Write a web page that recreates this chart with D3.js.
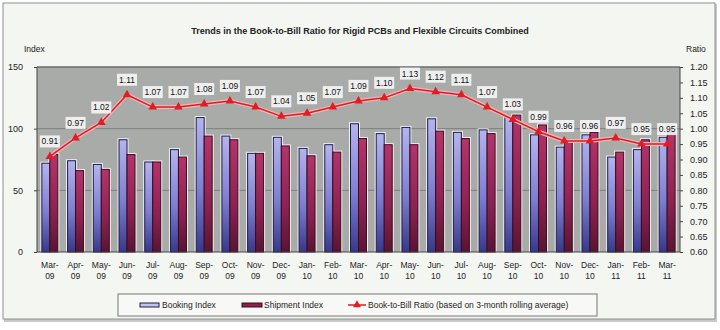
<!DOCTYPE html>
<html>
<head>
<meta charset="utf-8">
<script src="https://cdn.jsdelivr.net/npm/d3@7"></script>
<style>
  body { margin: 0; background: #ffffff; }
  svg text { font-family: "Liberation Sans", Arial, sans-serif; }
</style>
</head>
<body>
<svg width="720" height="330"></svg>
<script>
const months = ["Mar-09", "Apr-09", "May-09", "Jun-09", "Jul-09", "Aug-09", "Sep-09", "Oct-09", "Nov-09",
  "Dec-09", "Jan-10", "Feb-10", "Mar-10", "Apr-10", "May-10", "Jun-10", "Jul-10", "Aug-10", "Sep-10",
  "Oct-10", "Nov-10", "Dec-10", "Jan-11", "Feb-11", "Mar-11"];
const bookings = [72, 74, 71, 91, 73, 83, 109, 94, 80, 93, 84, 87, 104, 96, 101, 108, 97, 99, 109, 95, 85, 95, 77, 83, 93];
const shipments = [79, 66, 67, 79, 73, 77, 94, 91, 80, 86, 78, 81, 92, 87, 87, 98, 92, 96, 111, 103, 89, 97, 81, 91, 97];
const ratios = [0.91, 0.97, 1.02, 1.11, 1.07, 1.07, 1.08, 1.09, 1.07, 1.04, 1.05, 1.07, 1.09, 1.10, 1.13, 1.12,
  1.11, 1.07, 1.03, 0.99, 0.96, 0.96, 0.97, 0.95, 0.95];
const indexTicks = [0, 50, 100, 150];
const ratioTicks = [0.60, 0.65, 0.70, 0.75, 0.80, 0.85, 0.90, 0.95, 1.00, 1.05, 1.10, 1.15, 1.20];

const svg = d3.select("svg");
const plot = { left: 37, right: 680, top: 67, bottom: 252 };

// frame
svg.append("rect").attr("x", 0).attr("y", 0).attr("width", 720).attr("height", 330).attr("fill", "#ffffff");
svg.append("rect").attr("x", 4).attr("y", 4).attr("width", 713).attr("height", 318)
  .attr("fill", "#c8cac8");
svg.append("rect").attr("x", 3).attr("y", 3).attr("width", 712).attr("height", 316)
  .attr("fill", "#f4f6f2").attr("stroke", "#8e908e").attr("stroke-width", 1);

const defs = svg.append("defs");
const gBook = defs.append("linearGradient").attr("id", "gBook").attr("x1", 0).attr("y1", 0).attr("x2", 0).attr("y2", 1);
gBook.append("stop").attr("offset", "0%").attr("stop-color", "#b4b4ee");
gBook.append("stop").attr("offset", "55%").attr("stop-color", "#7e7ed0");
gBook.append("stop").attr("offset", "100%").attr("stop-color", "#38388a");
const gShip = defs.append("linearGradient").attr("id", "gShip").attr("x1", 0).attr("y1", 0).attr("x2", 0).attr("y2", 1);
gShip.append("stop").attr("offset", "0%").attr("stop-color", "#b4346a");
gShip.append("stop").attr("offset", "60%").attr("stop-color", "#8a2250");
gShip.append("stop").attr("offset", "100%").attr("stop-color", "#581432");

const x = d3.scaleBand().domain(months).range([plot.left, plot.right]);
const yIdx = d3.scaleLinear().domain([0, 150]).range([plot.bottom, plot.top]);
const yRat = d3.scaleLinear().domain([0.6, 1.2]).range([plot.bottom, plot.top]);

// plot background + grid
svg.append("rect").attr("x", plot.left).attr("y", plot.top)
  .attr("width", plot.right - plot.left).attr("height", plot.bottom - plot.top)
  .attr("fill", "#a9aba9");
svg.append("g").selectAll("line").data([50, 100]).join("line")
  .attr("x1", plot.left).attr("x2", plot.right)
  .attr("y1", d => yIdx(d)).attr("y2", d => yIdx(d))
  .attr("stroke", "#7c7e7c").attr("stroke-width", 1);
svg.append("line").attr("x1", plot.left).attr("x2", plot.right)
  .attr("y1", plot.top).attr("y2", plot.top).attr("stroke", "#6a6c6a").attr("stroke-width", 1.5);

// bars, each with a light halo behind it
const bw = 8;
const series = [
  { vals: bookings, off: -bw, fill: "url(#gBook)", edge: "#1c1c48" },
  { vals: shipments, off: 0, fill: "url(#gShip)", edge: "#3a0a1e" }
];
series.forEach(s => {
  svg.append("g").selectAll("rect").data(months).join("rect")
    .attr("x", d => x(d) + x.bandwidth() / 2 + s.off - 1.5)
    .attr("y", (d, i) => yIdx(s.vals[i]) - 1.5)
    .attr("width", bw + 3)
    .attr("height", (d, i) => plot.bottom - yIdx(s.vals[i]) + 1.5)
    .attr("fill", "#f2f2f2");
});
series.forEach(s => {
  svg.append("g").selectAll("rect").data(months).join("rect")
    .attr("x", d => x(d) + x.bandwidth() / 2 + s.off)
    .attr("y", (d, i) => yIdx(s.vals[i]))
    .attr("width", bw)
    .attr("height", (d, i) => plot.bottom - yIdx(s.vals[i]))
    .attr("fill", s.fill).attr("stroke", s.edge).attr("stroke-width", 1);
});

// axes
svg.append("line").attr("x1", plot.left).attr("x2", plot.left).attr("y1", plot.top).attr("y2", plot.bottom)
  .attr("stroke", "#444").attr("stroke-width", 1);
svg.append("line").attr("x1", plot.right).attr("x2", plot.right).attr("y1", plot.top).attr("y2", plot.bottom)
  .attr("stroke", "#444").attr("stroke-width", 1);
svg.append("line").attr("x1", plot.left).attr("x2", plot.right).attr("y1", plot.bottom).attr("y2", plot.bottom)
  .attr("stroke", "#444").attr("stroke-width", 1);

const leftAxis = svg.append("g").attr("transform", `translate(${plot.left},0)`)
  .call(d3.axisLeft(yIdx).tickValues(indexTicks).tickSize(3).tickPadding(11));
const rightAxis = svg.append("g").attr("transform", `translate(${plot.right},0)`)
  .call(d3.axisRight(yRat).tickValues(ratioTicks).tickSize(3).tickPadding(7).tickFormat(d3.format(".2f")));
[leftAxis, rightAxis].forEach(a => {
  a.select(".domain").remove();
  a.selectAll("line").attr("stroke", "#444");
  a.selectAll("text").attr("font-size", 9).attr("fill", "#222")
    .attr("font-family", "'Liberation Sans', Arial, sans-serif");
});

const xl = svg.append("g").selectAll("text").data(months).join("text")
  .attr("x", d => x(d) + x.bandwidth() / 2)
  .attr("y", 268)
  .attr("text-anchor", "middle").attr("font-size", 8.5).attr("fill", "#222");
xl.append("tspan").attr("x", d => x(d) + x.bandwidth() / 2).text(d => d.split("-")[0] + "-");
xl.append("tspan").attr("x", d => x(d) + x.bandwidth() / 2).attr("dy", 10.5).text(d => d.split("-")[1]);

// ratio line
const pts = months.map((m, i) => [x(m) + x.bandwidth() / 2, yRat(ratios[i])]);
svg.append("path").attr("d", d3.line()(pts)).attr("fill", "none")
  .attr("stroke", "#f2b4b4").attr("stroke-width", 4).attr("stroke-linejoin", "round");
svg.append("path").attr("d", d3.line()(pts)).attr("fill", "none")
  .attr("stroke", "#dc1c24").attr("stroke-width", 1.5);
svg.append("g").selectAll("path").data(pts).join("path")
  .attr("transform", d => `translate(${d[0]},${d[1]})`)
  .attr("d", d3.symbol(d3.symbolTriangle, 32))
  .attr("fill", "#e01c24");

// value labels
const lab = svg.append("g").selectAll("g").data(months).join("g")
  .attr("transform", (d, i) => `translate(${pts[i][0]},${pts[i][1] - 15})`);
lab.append("rect").attr("x", -10).attr("y", -6).attr("width", 20).attr("height", 12)
  .attr("fill", "#f6f6f6").attr("opacity", 0.9);
lab.append("text").attr("text-anchor", "middle").attr("dy", "0.35em")
  .attr("font-size", 8.5).attr("fill", "#111")
  .text((d, i) => ratios[i].toFixed(2));

// titles
svg.append("text").attr("x", 360).attr("y", 34).attr("text-anchor", "middle")
  .attr("font-size", 9).attr("font-weight", "bold").attr("fill", "#222")
  .text("Trends in the Book-to-Bill Ratio for Rigid PCBs and Flexible Circuits Combined");
svg.append("text").attr("x", 24).attr("y", 52).attr("font-size", 8.5).attr("fill", "#222").text("Index");
svg.append("text").attr("x", 686).attr("y", 52).attr("font-size", 8.5).attr("fill", "#222").text("Ratio");

// legend
const lg = svg.append("g");
lg.append("rect").attr("x", 118).attr("y", 294).attr("width", 479).attr("height", 22)
  .attr("fill", "#f8f9f6").attr("stroke", "#777").attr("stroke-width", 1);
lg.append("rect").attr("x", 140).attr("y", 303).attr("width", 19).attr("height", 4)
  .attr("fill", "#c4c4ee").attr("stroke", "#1c1c48");
lg.append("text").attr("x", 162).attr("y", 308).attr("font-size", 8.5).attr("fill", "#222").text("Booking Index");
lg.append("rect").attr("x", 242).attr("y", 303).attr("width", 20).attr("height", 4)
  .attr("fill", "#8a2250").attr("stroke", "#3a0a1e");
lg.append("text").attr("x", 264).attr("y", 308).attr("font-size", 8.5).attr("fill", "#222").text("Shipment Index");
lg.append("line").attr("x1", 348).attr("x2", 366).attr("y1", 305).attr("y2", 305)
  .attr("stroke", "#dc1c24").attr("stroke-width", 1.5);
lg.append("path").attr("transform", "translate(357,305)").attr("d", d3.symbol(d3.symbolTriangle, 28)).attr("fill", "#e01c24");
lg.append("text").attr("x", 368).attr("y", 308).attr("font-size", 8.5).attr("fill", "#222")
  .text("Book-to-Bill Ratio (based on 3-month rolling average)");
</script>
</body>
</html>
